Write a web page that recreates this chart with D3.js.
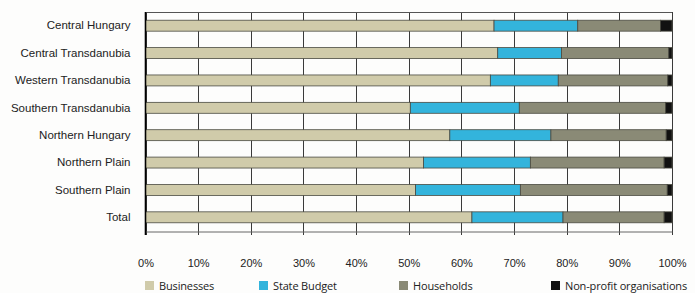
<!DOCTYPE html>
<html>
<head>
<meta charset="utf-8">
<script src="https://cdn.jsdelivr.net/npm/d3@7"></script>
<style>
  html, body { margin: 0; padding: 0; background: #fdfdfc; }
  svg { display: block; font-family: "Open Sans", "Noto Sans", sans-serif; }
</style>
</head>
<body>
<svg id="chart" width="695" height="293"></svg>
<script>
// Regions, top to bottom
const regions = ['Central Hungary', 'Central Transdanubia', 'Western Transdanubia',
  'Southern Transdanubia', 'Northern Hungary', 'Northern Plain', 'Southern Plain', 'Total'];

// Shares of funding by source (%)
const businesses  = [66.2, 66.9, 65.5, 50.3, 57.8, 52.8, 51.3, 62.0];
const stateBudget = [15.9, 12.1, 12.9, 20.7, 19.2, 20.3, 19.9, 17.3];
const households  = [15.7, 20.4, 20.8, 27.8, 21.9, 25.4, 27.9, 19.2];
const nonProfit   = [2.2, 0.6, 0.8, 1.2, 1.1, 1.5, 0.9, 1.5];

const seriesNames = ['Businesses', 'State Budget', 'Households', 'Non-profit organisations'];
const tickValues = [0, 10, 20, 30, 40, 50, 60, 70, 80, 90, 100];

// colours
const colors = ['#d0cbaa', '#33b4dc', '#8a8a76', '#111111'];

const svg = d3.select('#chart');
const margin = { left: 145.5, right: 23, top: 12, bottom: 62 };
const width = 695, height = 293;

const x = d3.scaleLinear().domain([0, 100]).range([margin.left, width - margin.right]);
const y = d3.scaleBand().domain(regions)
  .range([margin.top, height - margin.bottom])
  .paddingInner(0.6).paddingOuter(0.3);

const rows = regions.map((r, i) => ({
  region: r,
  Businesses: businesses[i],
  'State Budget': stateBudget[i],
  Households: households[i],
  'Non-profit organisations': nonProfit[i]
}));
const stacked = d3.stack().keys(seriesNames)(rows);

// grid: vertical lines + top line
const grid = svg.append('g');
grid.selectAll('line.v')
  .data(tickValues)
  .enter().append('line')
  .attr('x1', d => Math.round(x(d)) + 0.5)
  .attr('x2', d => Math.round(x(d)) + 0.5)
  .attr('y1', margin.top)
  .attr('y2', height - margin.bottom + 4)
  .attr('stroke', '#3a3a3a')
  .attr('stroke-width', 1);
grid.append('line')
  .attr('x1', x(0)).attr('x2', x(100))
  .attr('y1', margin.top + 0.5).attr('y2', margin.top + 0.5)
  .attr('stroke', '#555');

// bars
svg.append('g').selectAll('g')
  .data(stacked)
  .enter().append('g')
  .attr('fill', (d, i) => colors[i])
  .selectAll('rect')
  .data(d => d)
  .enter().append('rect')
  .attr('x', d => x(d[0]))
  .attr('y', d => y(d.data.region))
  .attr('width', d => x(d[1]) - x(d[0]))
  .attr('height', y.bandwidth())
  .attr('stroke', '#4a4a40')
  .attr('stroke-width', 0.8);

// bottom axis
const xAxis = d3.axisBottom(x)
  .tickValues(tickValues)
  .tickFormat(d => d + '%')
  .tickSize(0)
  .tickPadding(28);
const ax = svg.append('g')
  .attr('transform', `translate(0,${height - margin.bottom + 0.5})`)
  .call(xAxis);
ax.select('.domain').attr('stroke', '#666').attr('stroke-width', 1);
ax.selectAll('text').attr('font-size', 11).attr('fill', '#222');

// left axis
const yAxis = d3.axisLeft(y).tickSize(0).tickPadding(15);
const ay = svg.append('g')
  .attr('transform', `translate(${margin.left},0)`)
  .call(yAxis);
ay.select('.domain').remove();
ay.selectAll('text').attr('font-size', 11.5).attr('fill', '#222');
svg.append('line')
  .attr('x1', margin.left).attr('x2', margin.left)
  .attr('y1', margin.top).attr('y2', height - margin.bottom + 4)
  .attr('stroke', '#000').attr('stroke-width', 1.6);

// legend
const legendX = [145, 259, 399, 551];
const lg = svg.append('g').selectAll('g')
  .data(seriesNames)
  .enter().append('g')
  .attr('transform', (d, i) => `translate(${legendX[i]},281)`);
lg.append('rect')
  .attr('width', 9).attr('height', 9)
  .attr('fill', (d, i) => colors[i]);
lg.append('text')
  .attr('x', 14).attr('y', 9)
  .attr('font-size', 11)
  .attr('letter-spacing', -0.15)
  .attr('fill', '#222')
  .text(d => d);
</script>
</body>
</html>
